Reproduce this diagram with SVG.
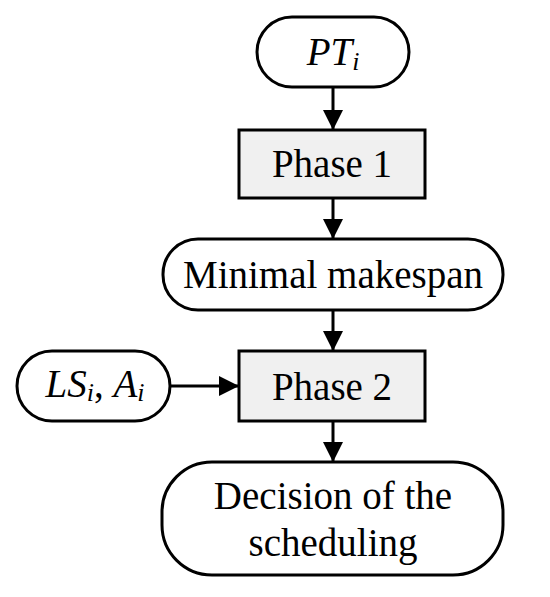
<svg xmlns="http://www.w3.org/2000/svg" width="550" height="597" viewBox="0 0 550 597">
<defs>
<marker id="ah" markerUnits="userSpaceOnUse" markerWidth="20" markerHeight="22" refX="20" refY="10" orient="auto">
<path d="M0,0 L20,10 L0,20 Z" fill="#000"/>
</marker>
<style>
.term{fill:#fff;stroke:#000;stroke-width:3}
.proc{fill:#f0f0f0;stroke:#000;stroke-width:3}
.t{font-family:"Liberation Serif","Times New Roman",serif;font-size:39px;fill:#000;text-anchor:middle}
.it{font-style:italic}
.sub{font-size:26px}
.c{stroke:#000;stroke-width:3;fill:none;marker-end:url(#ah)}
</style>
</defs>
<rect width="550" height="597" fill="#fff"/>
<g id="connectors">
<line class="c" x1="333" y1="87" x2="333" y2="130"/>
<line class="c" x1="333" y1="198" x2="333" y2="239"/>
<line class="c" x1="333" y1="310" x2="333" y2="351"/>
<line class="c" x1="170" y1="386" x2="239" y2="386"/>
<line class="c" x1="333" y1="421" x2="333" y2="462"/>
</g>
<g id="pti">
<rect class="term" x="257" y="17" width="152" height="70" rx="35"/>
<text class="t" x="333" y="65"><tspan class="it">PT</tspan><tspan class="it sub" dy="5">i</tspan></text>
</g>
<g id="phase1">
<rect class="proc" x="239" y="130" width="186" height="68"/>
<text class="t" x="332" y="177">Phase 1</text>
</g>
<g id="minimal">
<rect class="term" x="163" y="239" width="340" height="71" rx="35"/>
<text class="t" x="333" y="288">Minimal makespan</text>
</g>
<g id="lsai">
<rect class="term" x="17" y="351" width="153" height="70" rx="35"/>
<text class="t" x="95" y="397"><tspan class="it">LS</tspan><tspan class="it sub" dy="4">i</tspan><tspan dy="-4">, </tspan><tspan class="it">A</tspan><tspan class="it sub" dy="4">i</tspan></text>
</g>
<g id="phase2">
<rect class="proc" x="239" y="351" width="186" height="70"/>
<text class="t" x="332" y="400">Phase 2</text>
</g>
<g id="decision">
<rect class="term" x="162" y="462" width="341" height="113" rx="50"/>
<text class="t" x="333" y="509">Decision of the</text>
<text class="t" x="333" y="556">scheduling</text>
</g>
</svg>
